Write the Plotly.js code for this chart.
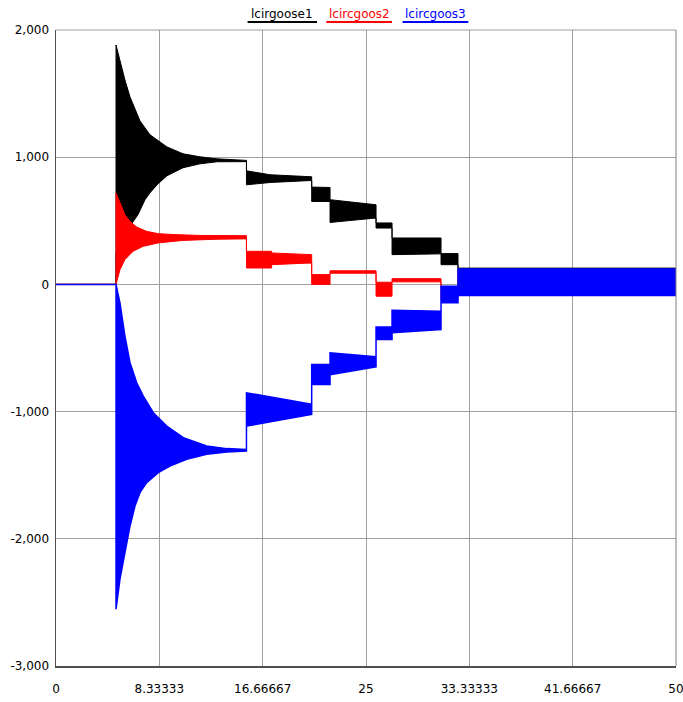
<!DOCTYPE html>
<html>
<head>
<meta charset="utf-8">
<script src="https://cdn.plot.ly/plotly-3.0.1.min.js"></script>
<style>
html,body{margin:0;padding:0;background:#fff;}
#chart{width:683px;height:702px;}
</style>
</head>
<body>
<div id="chart"></div>
<script>
// ---- Series names ----
const seriesNames = ['lcirgoose1', 'lcircgoos2', 'lcircgoos3'];

// ---- Axis ticks ----
const xTickVals = [0, 8.33333, 16.66667, 25, 33.33333, 41.66667, 50];
const xTickText = ['0', '8.33333', '16.66667', '25', '33.33333', '41.66667', '50'];
const yTickVals = [-3000, -2000, -1000, 0, 1000, 2000];
const yTickText = ['-3,000', '-2,000', '-1,000', '0', '1,000', '2,000'];

// ---- lcirgoose1 (black) oscillation envelope ----
const blackHiX = [0, 4.84, 4.84, 5.16, 5.56, 5.97, 6.37, 6.77, 7.58, 8.23, 8.95, 10.24, 11.61, 12.98, 15.36, 15.36, 17.26, 20.62, 20.62, 22.10, 22.10, 25.81, 25.81, 27.10, 27.10, 31.05, 31.05, 32.42, 32.42, 50];
const blackHiY = [0, 0, 1882, 1749, 1607, 1474, 1372, 1286, 1176, 1129, 1081, 1027, 1003, 987, 975, 893, 862, 846, 765, 762, 666, 626, 483, 483, 365, 365, 242, 242, 128, 128];
const blackLoX = [0, 4.84, 4.84, 5.56, 6.61, 7.18, 7.58, 8.23, 8.95, 10.24, 11.61, 12.98, 15.36, 15.36, 17.26, 20.62, 20.62, 22.10, 22.10, 25.81, 25.81, 27.10, 27.10, 31.05, 31.05, 32.42, 32.42, 50];
const blackLoY = [0, 0, 250, 400, 548, 666, 720, 791, 854, 917, 948, 964, 965, 783, 801, 817, 652, 652, 487, 522, 443, 443, 234, 240, 155, 155, -80, -80];

// ---- lcircgoos2 (red) ----
const redHiX = [0, 4.84, 4.84, 5.16, 5.56, 5.97, 6.51, 7.31, 8.25, 9.44, 11.61, 15.36, 15.36, 17.39, 17.39, 20.62, 20.62, 22.10, 22.10, 25.81, 25.81, 27.10, 27.10, 31.05, 31.05, 32.42, 32.42, 50];
const redHiY = [0, 0, 718, 640, 548, 495, 451, 417, 399, 392, 385, 383, 260, 260, 247, 234, 77, 77, 107, 107, 17, 17, 45, 45, -20, -20, 110, 110];
const redLoX = [0, 4.84, 5.16, 5.56, 6.21, 7.02, 8.23, 10.24, 12.98, 15.36, 15.36, 17.39, 17.39, 20.62, 20.62, 22.10, 22.10, 25.81, 25.81, 27.10, 27.10, 31.05, 31.05, 32.42, 32.42, 50];
const redLoY = [0, 0, 116, 195, 260, 299, 326, 346, 355, 358, 129, 129, 155, 169, 0, 0, 88, 88, -93, -93, 20, 20, -120, -120, -80, -80];

// ---- lcircgoos3 (blue) ----
const blueHiX = [0, 4.84, 5.16, 5.56, 5.97, 6.51, 7.04, 7.85, 8.93, 10.27, 12.15, 13.77, 15.36, 15.36, 20.62, 20.62, 22.10, 22.10, 25.81, 25.81, 27.10, 27.10, 31.05, 31.05, 32.42, 32.42, 50];
const blueHiY = [0, 0, -145, -407, -616, -773, -878, -1009, -1114, -1205, -1271, -1291, -1297, -852, -943, -630, -630, -538, -568, -334, -334, -203, -211, -15, -15, 122, 122];
const blueLoX = [0, 4.84, 4.84, 5.16, 5.56, 5.97, 6.37, 6.77, 7.31, 8.25, 9.19, 10.54, 12.15, 13.77, 15.36, 15.36, 20.62, 20.62, 22.10, 22.10, 25.81, 25.81, 27.10, 27.10, 31.05, 31.05, 32.42, 32.42, 50];
const blueLoY = [0, 0, -2554, -2317, -2108, -1899, -1742, -1637, -1558, -1480, -1428, -1375, -1336, -1318, -1310, -1114, -1022, -787, -787, -711, -648, -433, -433, -381, -355, -145, -145, -88, -88];

const colors = ['#000000', '#ff0000', '#0000ff'];

function band(hx, hy, lx, ly, color, name, lw) {
  const xs = hx.concat(lx.slice().reverse());
  const ys = hy.concat(ly.slice().reverse());
  return {
    type: 'scatter', mode: 'lines', name: name,
    x: xs, y: ys, fill: 'toself', fillcolor: color,
    line: {color: color, width: lw, shape: 'linear'},
    hoverinfo: 'skip'
  };
}

const traces = [
  band(blackHiX, blackHiY, blackLoX, blackLoY, colors[0], seriesNames[0], 1),
  band(redHiX, redHiY, redLoX, redLoY, colors[1], seriesNames[1], 1),
  band(blueHiX, blueHiY, blueLoX, blueLoY, colors[2], seriesNames[2], 1.5)
];

const font = {family: 'DejaVu Sans, Arial, sans-serif', size: 12, color: '#000'};

// legend entries (text + coloured underline)
const legendCenters = [0.365, 0.489, 0.612];
const legendHalfW = [0.056, 0.053, 0.053];
const annotations = seriesNames.map((n, i) => ({
  xref: 'paper', yref: 'paper', x: legendCenters[i], y: 1.0252,
  xanchor: 'center', yanchor: 'middle', showarrow: false,
  text: n, font: {family: 'DejaVu Sans, Arial, sans-serif', size: 12, color: colors[i]}
}));
const shapes = seriesNames.map((n, i) => ({
  type: 'line', xref: 'paper', yref: 'paper',
  x0: legendCenters[i] - legendHalfW[i], x1: legendCenters[i] + legendHalfW[i],
  y0: 1.0125, y1: 1.0125, line: {color: colors[i], width: 2}
}));
// top and right frame (gray)
shapes.push({type: 'line', xref: 'paper', yref: 'paper', x0: 0, x1: 1, y0: 1, y1: 1, line: {color: '#a0a0a0', width: 1}});
shapes.push({type: 'line', xref: 'paper', yref: 'paper', x0: 1, x1: 1, y0: 0, y1: 1, line: {color: '#808080', width: 1}});

const layout = {
  width: 683, height: 702,
  margin: {l: 56, r: 7, t: 30, b: 36, pad: 0},
  paper_bgcolor: '#ffffff', plot_bgcolor: '#ffffff',
  showlegend: false,
  font: font,
  xaxis: {
    range: [0, 50], tickmode: 'array', tickvals: xTickVals, ticktext: xTickText,
    showgrid: true, gridcolor: '#a0a0a0', gridwidth: 1,
    showline: true, linecolor: '#505050', linewidth: 1.5,
    zeroline: false, ticks: '', tickfont: font, ticklabelstandoff: 11,
    ticklabeloverflow: 'allow', fixedrange: true
  },
  yaxis: {
    range: [-3000, 2000], tickmode: 'array', tickvals: yTickVals, ticktext: yTickText,
    showgrid: true, gridcolor: '#a0a0a0', gridwidth: 1,
    showline: true, linecolor: '#505050', linewidth: 1.5,
    zeroline: false, ticks: '', tickfont: font, ticklabelstandoff: 3,
    ticklabeloverflow: 'allow', fixedrange: true
  },
  annotations: annotations,
  shapes: shapes
};

Plotly.newPlot('chart', traces, layout, {displayModeBar: false, staticPlot: true});
</script>
</body>
</html>
